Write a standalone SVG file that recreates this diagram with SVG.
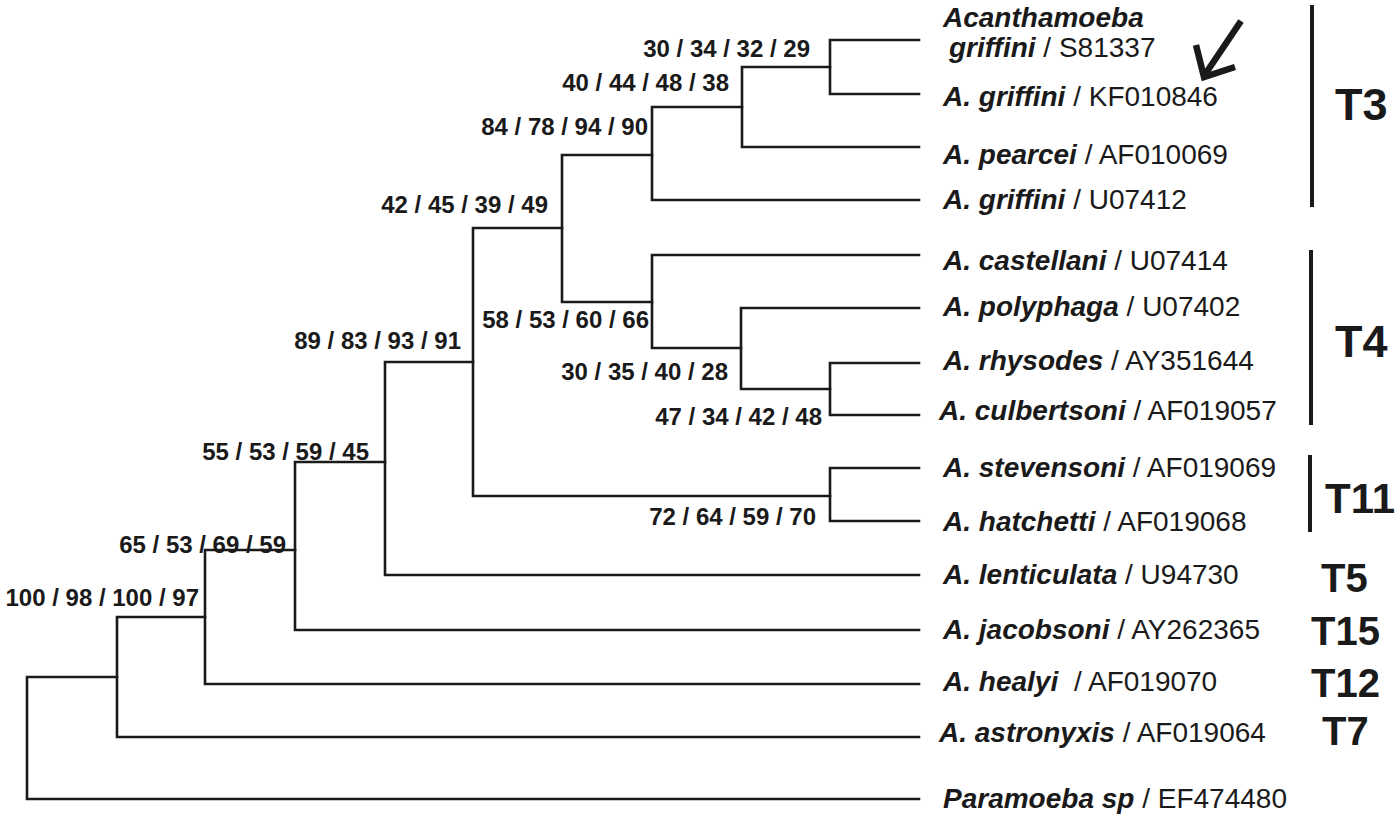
<svg xmlns="http://www.w3.org/2000/svg" width="1400" height="819" viewBox="0 0 1400 819">
<style>
.ln{fill:none;stroke:#1a1a1a;stroke-width:2.6;stroke-linecap:square;stroke-linejoin:miter}
.bar{stroke:#1a1a1a;stroke-width:4}
.sp{font-family:"Liberation Sans",Arial,sans-serif;font-size:28px;fill:#1a1a1a}
.sp .g{font-weight:bold;font-style:italic}
.bs{font-family:"Liberation Sans",Arial,sans-serif;font-size:24px;font-weight:bold;fill:#1a1a1a;text-anchor:end}
.tl{font-family:"Liberation Sans",Arial,sans-serif;font-weight:bold;fill:#1a1a1a}
</style>
<rect width="1400" height="819" fill="#ffffff"/>
<g id="connectors">
<path class="ln" d="M27,677 V799 M27,677 H117 M27,799 H919"/>
<path class="ln" d="M117,617 V737 M117,617 H205 M117,737 H919"/>
<path class="ln" d="M205,550 V684 M205,550 H295 M205,684 H919"/>
<path class="ln" d="M295,462 V630 M295,462 H385 M295,630 H919"/>
<path class="ln" d="M385,362 V575 M385,362 H473 M385,575 H919"/>
<path class="ln" d="M473,228 V496 M473,228 H562 M473,496 H830"/>
<path class="ln" d="M830,468 V521 M830,468 H919 M830,521 H919"/>
<path class="ln" d="M562,155 V302 M562,155 H652 M562,302 H652"/>
<path class="ln" d="M652,107 V200 M652,107 H742 M652,200 H919"/>
<path class="ln" d="M742,67 V147 M742,67 H830 M742,147 H919"/>
<path class="ln" d="M830,40 V94 M830,40 H919 M830,94 H919"/>
<path class="ln" d="M652,255 V348 M652,255 H919 M652,348 H741"/>
<path class="ln" d="M741,308 V389 M741,308 H919 M741,389 H830"/>
<path class="ln" d="M830,363 V415 M830,363 H919 M830,415 H919"/>
</g>
<g id="support-values">
<text class="bs" x="810" y="57">30 / 34 / 32 / 29</text>
<text class="bs" x="729" y="91">40 / 44 / 48 / 38</text>
<text class="bs" x="648" y="135">84 / 78 / 94 / 90</text>
<text class="bs" x="548" y="213">42 / 45 / 39 / 49</text>
<text class="bs" x="461" y="349">89 / 83 / 93 / 91</text>
<text class="bs" x="649" y="328">58 / 53 / 60 / 66</text>
<text class="bs" x="728" y="380">30 / 35 / 40 / 28</text>
<text class="bs" x="822" y="425">47 / 34 / 42 / 48</text>
<text class="bs" x="816" y="525">72 / 64 / 59 / 70</text>
<text class="bs" x="369" y="460">55 / 53 / 59 / 45</text>
<text class="bs" x="286" y="553">65 / 53 / 69 / 59</text>
<text class="bs" x="199" y="606">100 / 98 / 100 / 97</text>
</g>
<g id="leaf-S81337"><text class="sp" x="943" y="27"><tspan class="g">Acanthamoeba</tspan></text><text class="sp" x="949" y="57"><tspan class="g">griffini</tspan> / S81337</text></g>
<g id="leaf-KF010846"><text class="sp" x="943" y="106"><tspan class="g">A. griffini</tspan> / KF010846</text></g>
<g id="leaf-AF010069"><text class="sp" x="943" y="164"><tspan class="g">A. pearcei</tspan> / AF010069</text></g>
<g id="leaf-U07412"><text class="sp" x="943" y="209"><tspan class="g">A. griffini</tspan> / U07412</text></g>
<g id="leaf-U07414"><text class="sp" x="943" y="270"><tspan class="g">A. castellani</tspan> / U07414</text></g>
<g id="leaf-U07402"><text class="sp" x="943" y="316"><tspan class="g">A. polyphaga</tspan> / U07402</text></g>
<g id="leaf-AY351644"><text class="sp" x="943" y="370"><tspan class="g">A. rhysodes</tspan> / AY351644</text></g>
<g id="leaf-AF019057"><text class="sp" x="939" y="420"><tspan class="g">A. culbertsoni</tspan> / AF019057</text></g>
<g id="leaf-AF019069"><text class="sp" x="943" y="477"><tspan class="g">A. stevensoni</tspan> / AF019069</text></g>
<g id="leaf-AF019068"><text class="sp" x="943" y="531"><tspan class="g">A. hatchetti</tspan> / AF019068</text></g>
<g id="leaf-U94730"><text class="sp" x="943" y="584"><tspan class="g">A. lenticulata</tspan> / U94730</text></g>
<g id="leaf-AY262365"><text class="sp" x="943" y="639"><tspan class="g">A. jacobsoni</tspan> / AY262365</text></g>
<g id="leaf-AF019070"><text class="sp" x="943" y="691"><tspan class="g">A. healyi</tspan><tspan dx="8"> / AF019070</tspan></text></g>
<g id="leaf-AF019064"><text class="sp" x="939" y="742"><tspan class="g">A. astronyxis</tspan> / AF019064</text></g>
<g id="leaf-EF474480"><text class="sp" x="943" y="808"><tspan class="g">Paramoeba sp</tspan> / EF474480</text></g>
<g id="arrow">
<path d="M1241,21 L1206,73" fill="none" stroke="#1a1a1a" stroke-width="6.5"/>
<path d="M1196,45 L1204,77 L1235,67" fill="none" stroke="#1a1a1a" stroke-width="6.5" stroke-linejoin="miter"/>
</g>
<g id="group-T3"><line class="bar" x1="1312" y1="5" x2="1312" y2="207"/><text class="tl" x="1335" y="120" font-size="45">T3</text></g>
<g id="group-T4"><line class="bar" x1="1311" y1="250" x2="1311" y2="425"/><text class="tl" x="1335" y="357" font-size="45">T4</text></g>
<g id="group-T11"><line class="bar" x1="1310" y1="455" x2="1310" y2="532"/><text class="tl" x="1325" y="513" font-size="42">T11</text></g>
<g id="group-T5"><text class="tl" x="1321" y="592" font-size="40">T5</text></g>
<g id="group-T15"><text class="tl" x="1311" y="645" font-size="40">T15</text></g>
<g id="group-T12"><text class="tl" x="1311" y="697" font-size="40">T12</text></g>
<g id="group-T7"><text class="tl" x="1322" y="745" font-size="40">T7</text></g>
</svg>
